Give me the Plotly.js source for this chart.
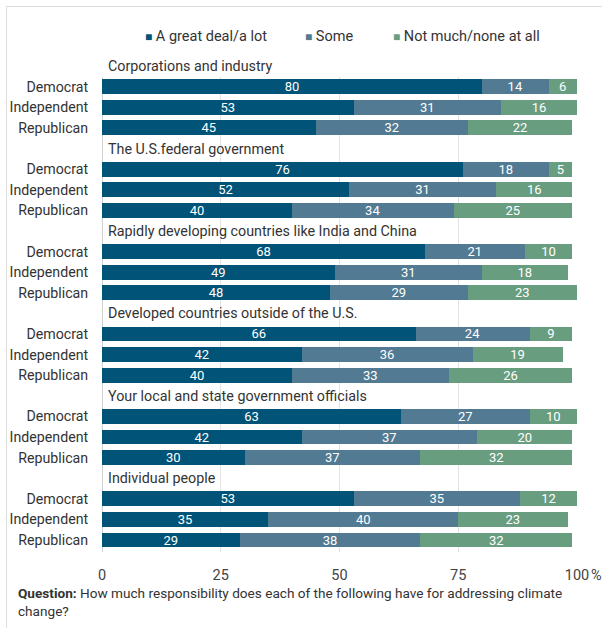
<!DOCTYPE html>
<html>
<head>
<meta charset="utf-8">
<script src="https://cdn.plot.ly/plotly-3.0.1.min.js"></script>
<style>
html,body{margin:0;padding:0;background:#fff;}
#chart{width:602px;height:628px;}
</style>
</head>
<body>
<div id="chart"></div>
<script>
const groups = [
  "Corporations and industry",
  "The U.S.federal government",
  "Rapidly developing countries like India and China",
  "Developed countries outside of the U.S.",
  "Your local and state government officials",
  "Individual people"
];
const parties = ["Democrat", "Independent", "Republican"];
const seriesNames = ["A great deal/a lot", "Some", "Not much/none at all"];
const colors = ["#025378", "#527A92", "#689D80"];

// values per group, in party order Democrat, Independent, Republican
const greatDeal = [
  [80, 53, 45],
  [76, 52, 40],
  [68, 49, 48],
  [66, 42, 40],
  [63, 42, 30],
  [53, 35, 29]
];
const some = [
  [14, 31, 32],
  [18, 31, 34],
  [21, 31, 29],
  [24, 36, 33],
  [27, 37, 37],
  [35, 40, 38]
];
const notMuch = [
  [6, 16, 22],
  [5, 16, 25],
  [10, 18, 23],
  [9, 19, 26],
  [10, 20, 32],
  [12, 23, 32]
];
const xTicks = [0, 25, 50, 75, 100];

// Layout: each group occupies 4 rows (title row + 3 party rows)
const yRange = [23.58, 0.53];
const yPos = [], yLabels = [];
groups.forEach((g, gi) => {
  parties.forEach((p, pi) => {
    yPos.push(gi * 4 + 1 + pi);
    yLabels.push(p);
  });
});
const toPaperY = v => (yRange[0] - v) / (yRange[0] - yRange[1]);

const seriesData = [greatDeal, some, notMuch];
const traces = seriesData.map((arr, si) => {
  const xs = [];
  arr.forEach(row => row.forEach(v => xs.push(v)));
  return {
    type: "bar",
    orientation: "h",
    name: seriesNames[si],
    x: xs,
    y: yPos,
    width: 0.72,
    marker: {color: colors[si], line: {width: 0}},
    text: xs.map(String),
    textposition: "inside",
    insidetextanchor: "middle",
    textangle: 0,
    constraintext: "none",
    textfont: {color: "#ffffff", size: 13, family: "Roboto"},
    hoverinfo: "skip",
    showlegend: false
  };
});

const annotations = groups.map((g, gi) => ({
  x: 0, y: toPaperY(gi * 4), xref: "x", yref: "paper",
  text: g, showarrow: false, xanchor: "left", yanchor: "middle",
  xshift: 4,
  font: {size: 14.3, color: "#333333", family: "Roboto"}
}));

// legend as text entries
const legendX = [143, 303, 391];
seriesNames.forEach((n, si) => {
  annotations.push({
    x: (legendX[si] - 102) / 475, y: 1 + (77 - 36) / 475,
    xref: "paper", yref: "paper",
    text: '<span style="color:' + colors[si] + ';font-size:12px">■</span> ' + n,
    showarrow: false, xanchor: "left", yanchor: "middle",
    font: {size: 14.5, color: "#333333", family: "Roboto"}
  });
});

annotations.push({
  x: (589 - 102) / 475, y: -(575 - 552) / 475, xref: "paper", yref: "paper",
  text: "%", showarrow: false, xanchor: "left", yanchor: "middle",
  font: {size: 14.5, color: "#444444", family: "Roboto"}
});

annotations.push({
  x: (16 - 102) / 475, y: -(583 - 552) / 475, xref: "paper", yref: "paper",
  text: "<b>Question:</b> How much responsibility does each of the following have for addressing climate<br>change?",
  showarrow: false, xanchor: "left", yanchor: "top", align: "left",
  font: {size: 13.6, color: "#333333", family: "Roboto"}
});

const shapes = [
  {type: "line", xref: "paper", yref: "paper",
   x0: (6 - 102) / 475, x1: (640 - 102) / 475,
   y0: 1 + (77 - 6.5) / 475, y1: 1 + (77 - 6.5) / 475,
   line: {color: "#dddddd", width: 1}},
  {type: "line", xref: "paper", yref: "paper",
   x0: (6.5 - 102) / 475, x1: (6.5 - 102) / 475,
   y0: 1 + (77 - 6) / 475, y1: -(700 - 552) / 475,
   line: {color: "#dddddd", width: 1}}
];

const layout = {
  width: 602, height: 628,
  margin: {l: 102, r: 25, t: 77, b: 76},
  paper_bgcolor: "#ffffff", plot_bgcolor: "#ffffff",
  barmode: "stack",
  font: {family: "Roboto", color: "#333333"},
  showlegend: false,
  xaxis: {
    range: [0, 100], tickvals: xTicks, ticktext: xTicks.map(String),
    showgrid: true, gridcolor: "#e3e3e3", gridwidth: 1,
    zeroline: true, zerolinecolor: "#d0d0d0", zerolinewidth: 1,
    ticks: "outside", ticklen: 10, tickcolor: "rgba(0,0,0,0)",
    tickfont: {size: 14.5, color: "#444444", family: "Roboto"},
    fixedrange: true
  },
  yaxis: {
    range: yRange, tickvals: yPos, ticktext: yLabels,
    showgrid: false, zeroline: false,
    ticks: "outside", ticklen: 10, tickcolor: "rgba(0,0,0,0)",
    tickfont: {size: 14.2, color: "#333333", family: "Roboto"},
    fixedrange: true
  },
  annotations: annotations,
  shapes: shapes
};

Plotly.newPlot("chart", traces, layout, {displayModeBar: false, staticPlot: true});
</script>
</body>
</html>
